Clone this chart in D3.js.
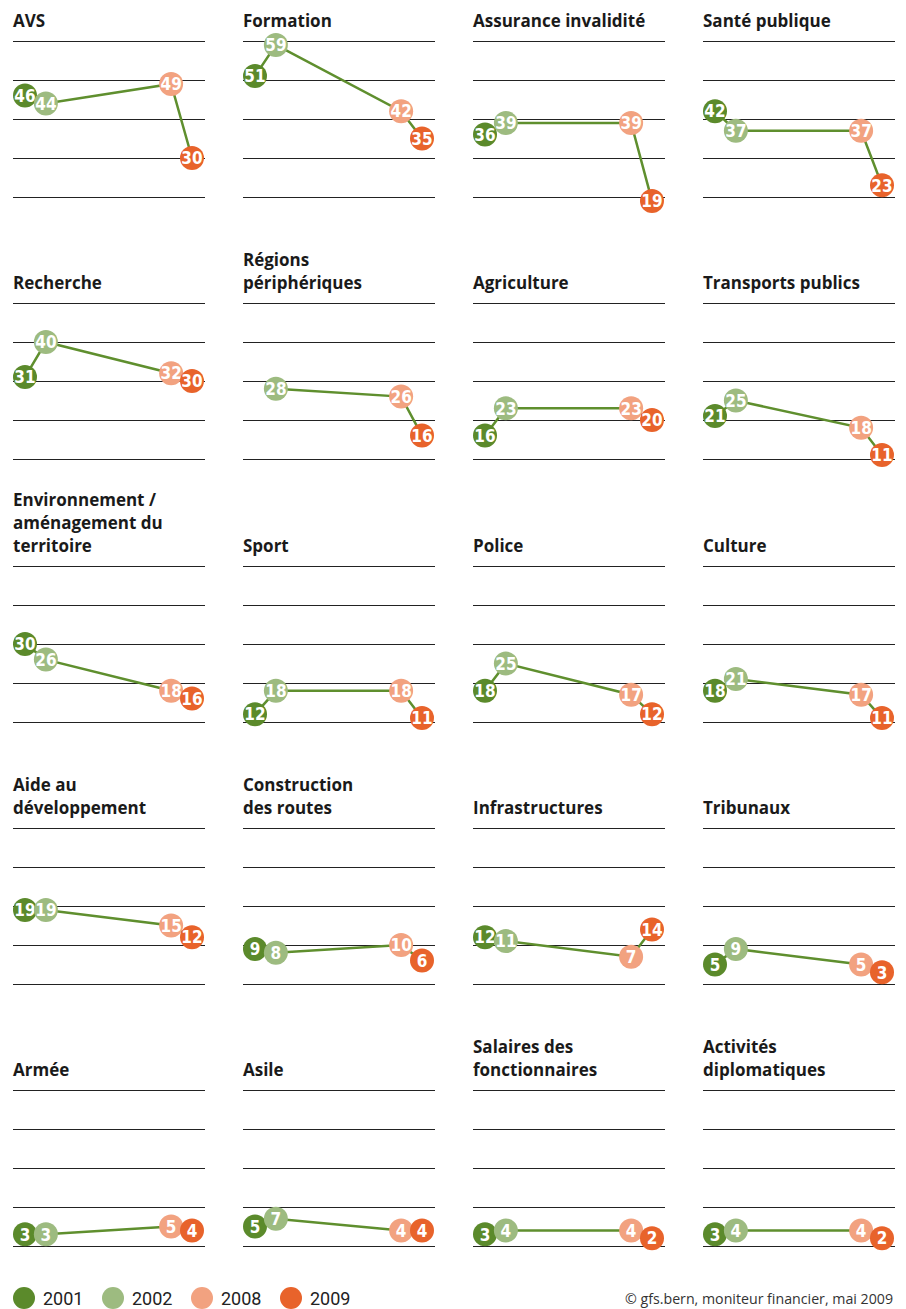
<!DOCTYPE html>
<html><head><meta charset="utf-8">
<script src="https://cdn.jsdelivr.net/npm/d3@7/dist/d3.min.js"></script>
<style>
body{margin:0;background:#fff;}
svg{display:block;}
</style></head>
<body>
<svg id="chart" width="906" height="1309"></svg>
<script>
const years = [2001, 2002, 2008, 2009];
const yearColors = ["#5b8a2b", "#9dbb80", "#f2a280", "#e8632b"];
const titles = [
  "AVS", "Formation", "Assurance invalidité", "Santé publique",
  "Recherche", "Régions\npériphériques", "Agriculture", "Transports publics",
  "Environnement /\naménagement du\nterritoire", "Sport", "Police", "Culture",
  "Aide au\ndéveloppement", "Construction\ndes routes", "Infrastructures", "Tribunaux",
  "Armée", "Asile", "Salaires des\nfonctionnaires", "Activités\ndiplomatiques"
];
const values = [
  [46, 44, 49, 30], [51, 59, 42, 35], [36, 39, 39, 19], [42, 37, 37, 23],
  [31, 40, 32, 30], [null, 28, 26, 16], [16, 23, 23, 20], [21, 25, 18, 11],
  [30, 26, 18, 16], [12, 18, 18, 11], [18, 25, 17, 12], [18, 21, 17, 11],
  [19, 19, 15, 12], [9, 8, 10, 6], [12, 11, 7, 14], [5, 9, 5, 3],
  [3, 3, 5, 4], [5, 7, 4, 4], [3, 4, 4, 2], [3, 4, 4, 2]
];
const rowDomains = [[20, 60], [10, 50], [10, 50], [0, 40], [0, 40]];
const gridTicks = 5;
const credit = "© gfs.bern, moniteur financier, mai 2009";

const svg = d3.select("#chart");
const colX0 = 13, colStep = 230, panelW = 192;
const rowTop = [41, 303, 566, 828, 1090];
const plotH = 156;
const r = 12;

titles.forEach((t, i) => {
  const row = Math.floor(i / 4), col = i % 4;
  const x0 = colX0 + col * colStep, x1 = x0 + panelW;
  const top = rowTop[row], bottom = top + plotH;
  const g = svg.append("g");
  const x = d3.scaleLinear().domain([2001, 2009]).range([x0 + 12, x1 - 13]);
  const y = d3.scaleLinear().domain(rowDomains[row]).range([bottom, top]);

  const lines = t.split("\n");
  const tt = g.append("text")
    .attr("x", x0)
    .attr("font-family", "'Open Sans', Roboto, sans-serif")
    .attr("font-weight", 700)
    .attr("font-size", 17)
    .attr("fill", "#1a1a1a");
  lines.forEach((l, k) => {
    tt.append("tspan").attr("x", x0)
      .attr("y", top - 14.5 - (lines.length - 1 - k) * 23)
      .text(l);
  });

  const ticks = d3.range(gridTicks).map(k => rowDomains[row][0] + k * (rowDomains[row][1] - rowDomains[row][0]) / (gridTicks - 1));
  g.selectAll("line.grid").data(ticks).join("line")
    .attr("x1", x0).attr("x2", x1)
    .attr("y1", d => Math.round(y(d)) + 0.5).attr("y2", d => Math.round(y(d)) + 0.5)
    .attr("stroke", "#222").attr("stroke-width", 1);

  const pts = years.map((yr, k) => ({ yr, v: values[i][k], k })).filter(d => d.v != null);
  g.append("path")
    .attr("d", d3.line().x(d => x(d.yr)).y(d => y(d.v))(pts))
    .attr("fill", "none").attr("stroke", "#5f8f2e").attr("stroke-width", 2.5);

  const pg = g.selectAll("g.pt").data(pts).join("g")
    .attr("transform", d => `translate(${x(d.yr)},${y(d.v)})`);
  pg.append("circle").attr("r", r).attr("fill", d => yearColors[d.k]);
  pg.append("text")
    .attr("text-anchor", "middle").attr("dy", "0.37em")
    .attr("font-family", "'Liberation Sans Narrow', 'DejaVu Sans Condensed', sans-serif")
    .attr("font-weight", 700).attr("font-size", 17).attr("fill", "#fff")
    .text(d => d.v);
});

const lg = svg.append("g");
years.forEach((yr, k) => {
  const cx = 24 + k * 89;
  lg.append("circle").attr("cx", cx).attr("cy", 1298).attr("r", 11).attr("fill", yearColors[k]);
  lg.append("text").attr("x", cx + 19).attr("y", 1305)
    .attr("font-family", "Roboto, sans-serif").attr("font-size", 18).attr("fill", "#222")
    .text(yr);
});
svg.append("text").attr("x", 893).attr("y", 1304).attr("text-anchor", "end")
  .attr("font-family", "'Open Sans', sans-serif").attr("font-size", 14.2).attr("fill", "#333")
  .text(credit);
</script>
</body></html>
